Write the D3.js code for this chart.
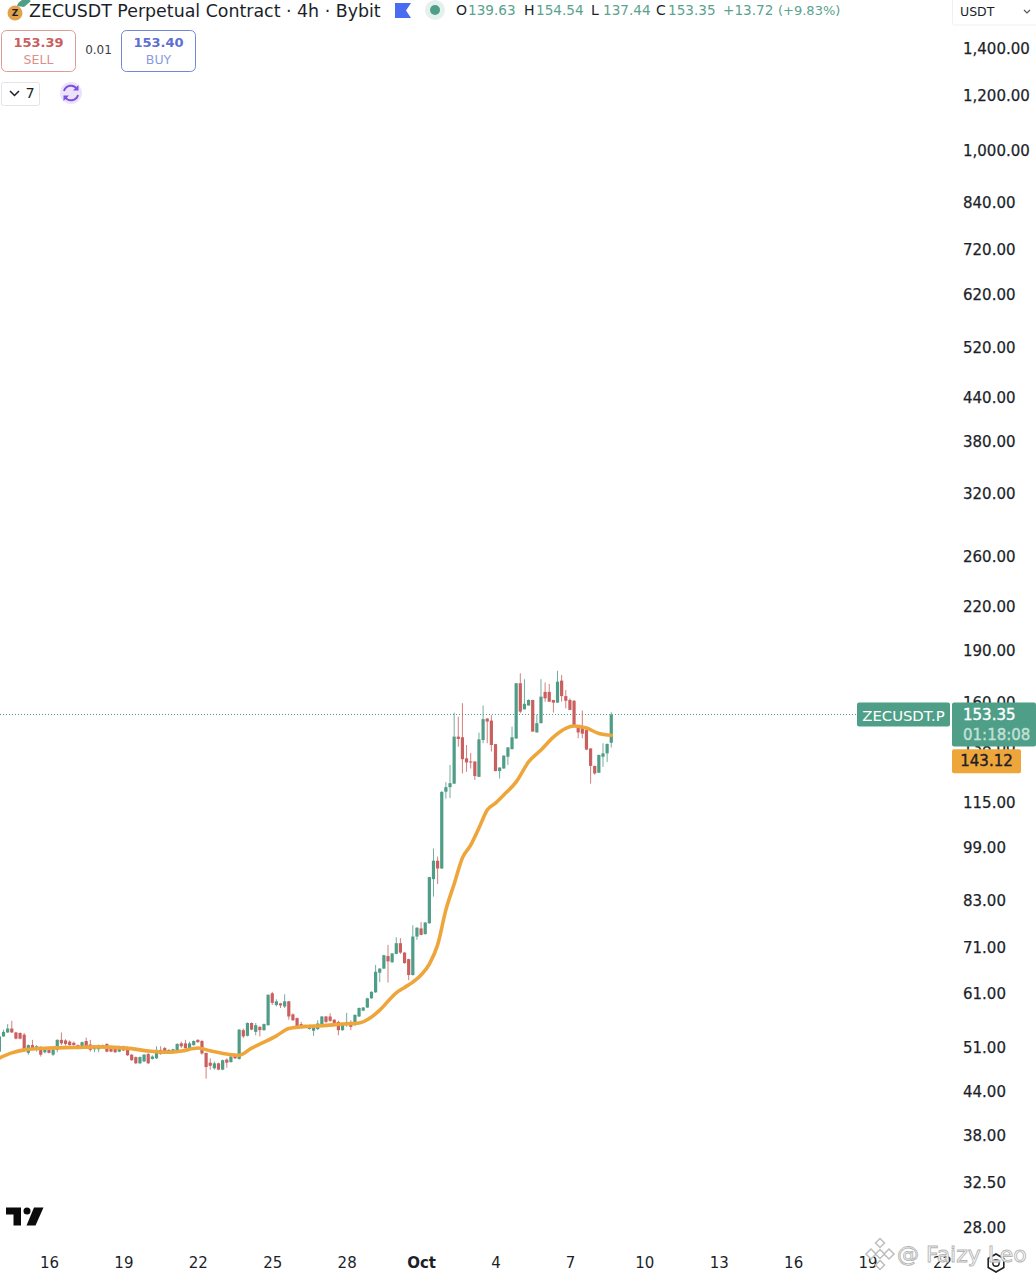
<!DOCTYPE html>
<html>
<head>
<meta charset="utf-8">
<title>ZECUSDT</title>
<script src="https://cdn.jsdelivr.net/npm/d3@7"></script>
<style>
  html, body { margin: 0; padding: 0; background: #fff; }
  svg { display: block; }
  text { font-family: "DejaVu Sans", sans-serif; }
</style>
</head>
<body>
<div id="chart"></div>
<script>
// 4h candles, first bar is Sep 14 00:00, one row = 10 bars
const opens = [
  50.1,52.7,53.4,54.1,53.4,53.3,53.0,49.9,51.2,50.4,
  50.9,50.0,50.4,49.6,50.4,52.1,52.0,51.8,51.6,51.2,
  50.6,51.9,51.3,50.5,50.5,50.9,51.4,51.0,50.8,50.1,
  51.0,50.5,49.6,49.2,48.2,48.5,49.7,48.9,49.0,50.4,
  50.7,50.0,50.0,50.3,51.5,51.5,50.7,51.2,52.1,51.9,
  49.9,48.3,47.4,48.2,47.2,48.8,48.4,49.4,48.9,53.8,
  52.8,55.1,53.5,54.4,53.8,54.7,60.8,58.5,58.8,58.2,
  59.2,56.7,56.0,54.9,54.3,54.0,53.7,54.0,54.9,56.3,
  56.3,55.7,55.3,53.8,54.7,55.3,54.7,56.3,57.4,58.0,
  59.8,61.0,65.1,66.0,68.8,67.4,69.3,71.8,69.6,68.1,
  64.6,73.4,75.4,74.0,76.7,88.8,94.4,92.0,118.7,120.5,
  121.9,142.5,142.2,132.6,131.2,131.2,124.7,140.9,151.3,150.3,
  139.0,127.1,128.2,133.3,136.7,141.6,170.1,156,158,160.9,
  144.5,149,165.3,165.3,160.9,159.5,171.6,163,160.9,160.5,
  147.7,147.3,145.7,137,129.3,126.4,133.3,134.8,139.63
];
const highs = [
  52.9,53.9,54.9,55.5,53.5,53.4,53.3,51.3,52.1,51.2,
  51.0,50.6,50.6,50.7,52.2,53.4,52.2,52.0,51.8,51.3,
  51.8,52.5,52.1,51.2,51.3,51.3,51.5,51.1,50.9,51.1,
  51.1,51.0,49.7,49.3,49.3,49.7,49.9,49.5,51.0,51.0,
  50.9,50.5,50.6,51.5,51.8,52.1,51.8,52.0,52.2,52.1,
  49.9,49.0,48.5,48.3,48.8,49.0,49.4,49.5,54.0,54.1,
  55.2,55.2,55.1,54.5,55.0,60.6,61.1,59.6,58.9,60.6,
  59.3,56.9,56.1,55.3,54.8,54.8,54.7,55.6,56.4,56.4,
  56.9,55.8,55.5,55.1,57.0,55.6,56.7,58.0,58.1,59.9,
  61.2,66.8,66.1,69.1,71.4,69.5,73.2,73.0,69.7,68.2,
  76.2,75.7,77.0,77.0,89.5,98.3,95.7,119,122.5,129.7,
  154.3,152.2,159.2,138.6,135.0,131.3,144.4,158.0,151.5,153,
  139.1,128.7,133.9,137.6,147.3,170.2,175.8,172.4,161.3,161,
  153.3,172.4,170.5,169.7,161,177.3,174.8,166.3,161.8,160.9,
  147.8,155.4,147.3,137.1,129.4,134.2,139.4,139.2,154.54
];
const lows = [
  50.0,52.6,53.3,53.3,52.2,52.2,50.1,49.6,50.4,50.1,
  49.3,49.8,49.8,49.4,50.0,51.2,51.1,51.1,51.1,50.5,
  50.5,50.7,50.1,50.0,50.0,50.7,50.0,50.0,49.9,50.0,
  50.2,49.4,48.6,48.1,48.1,48.4,48.1,48.8,48.9,49.6,
  49.7,49.9,49.9,50.2,50.7,50.4,50.6,51.1,51.6,49.6,
  45.8,47.2,47.2,47.1,47.1,47.5,48.3,48.9,48.8,52.4,
  52.7,53.8,52.9,52.7,53.7,54.6,58.5,58.2,57.9,57.9,
  55.7,55.5,54.3,54.3,54.2,53.9,52.8,53.8,54.8,55.1,
  55.3,55.0,52.9,53.7,54.4,53.8,54.6,56.2,57.3,57.9,
  59.7,60.9,63.1,65.9,63.0,67.3,69.2,69.3,67.1,63.5,
  64.5,72.6,73.7,73.9,76.6,83.8,87.4,91.9,116,116.2,
  121.8,137.8,126.1,126.8,128.2,123.4,124.6,139.4,139.4,135.6,
  127.0,124.0,128.1,129.7,136.6,141.5,154,155.9,157.9,144.8,
  144.4,148.9,160,159.9,154.3,159.4,160,156.5,155.6,147.3,
  141.7,141.7,136.2,121.9,125.6,126.3,128.9,131,137.44
];
const closes = [
  52.7,53.5,54.1,53.4,52.3,52.3,50.4,51.2,50.7,51.0,
  49.6,50.4,49.9,50.5,52.1,51.5,51.4,51.2,51.2,50.6,
  51.7,51.0,50.4,51.1,51.1,51.2,50.1,50.1,50.0,51.0,
  50.3,49.5,48.7,48.2,49.2,49.6,48.2,49.3,50.4,49.7,
  49.8,50.4,50.5,51.4,51.0,50.7,51.5,51.9,51.7,49.8,
  47.6,47.8,48.2,47.2,48.7,48.3,49.3,49.0,53.9,52.7,
  55.1,53.9,54.7,53.8,54.9,60.5,58.9,59.2,58.4,59.2,
  56.3,55.6,54.4,54.6,54.7,54.7,54.4,55.0,56.3,55.3,
  55.5,55.1,53.8,55.0,55.3,54.4,56.6,57.9,58.0,59.8,
  61.1,65.3,66.0,69.0,67.6,69.4,71.8,69.6,67.2,64.6,
  73.4,75.6,73.8,76.9,89.4,94.4,92.0,118.6,120.5,122.1,
  142.5,141.4,132.2,130.8,130.8,125.0,141.2,151.0,149.8,138.6,
  127.1,128.6,133.8,137.5,142.2,170.1,154.8,158.9,160.9,144.9,
  149,162.7,161.8,160,159.5,171,163,160.5,155.7,147.7,
  144.5,143.9,136.5,129.3,126.1,134.1,134.8,139.1,153.35
];

// orange moving average, read at these bars (counted from the first candle)
const maBars = [
  0,3,6,12,18,24,32,36,41,44,48,51,55,58,61,64,67,70,73,78,83,87,90,92,96,98,100,102,
  104,106,108,110,112,114,116,118,120,122,125,128,131,134,137,139,142,145,148
];
const maValues = [
  49.05,49.9,50.4,50.7,50.8,50.9,50.6,50.2,50.0,50.2,50.7,50.25,49.7,49.5,50.7,51.7,
  52.8,54.1,54.4,54.6,54.9,55.1,56.2,57.5,60.9,62.0,63.1,64.6,67.0,71.4,80.2,87.4,
  95.3,99.4,105.2,111.7,114.3,117.4,122.6,131.0,136.3,142.3,146.5,147.6,146.6,144.0,143.12
];

const priceTicks = [1400,1200,1000,840,720,620,520,440,380,320,260,220,190,160,138,115,99,83,71,61,51,44,38,32.5,28];
const dayTicks = ["2025-09-16","2025-09-19","2025-09-22","2025-09-25","2025-09-28","2025-10-01",
                  "2025-10-04","2025-10-07","2025-10-10","2025-10-13","2025-10-16","2025-10-19","2025-10-22"];
const dayLabels = ["16","19","22","25","28","Oct","4","7","10","13","16","19","22"];

const lastPrice = 153.35;
const maLast = 143.12;

const UP = "#4f9c87", DOWN = "#c9605f", MA = "#eea53a", TEAL = "#4f9f88", INK = "#1c1f2a";
const W = 1036, H = 1280;
const BAR_MS = 4 * 3600 * 1000;
const firstBar = Date.UTC(2025, 8, 14);

const svg = d3.select("#chart").append("svg").attr("width", W).attr("height", H);

const y = d3.scaleLog().domain([28, 1400]).range([1227, 48]);
const x = d3.scaleUtc()
  .domain([new Date("2025-09-16"), new Date("2025-10-22")])
  .range([49, 942]);
const barX = i => x(new Date(firstBar + i * BAR_MS));

function label(parent, px, py, str, opts = {}) {
  return parent.append("text")
    .attr("x", px).attr("y", py)
    .attr("dominant-baseline", "central")
    .attr("text-anchor", opts.anchor || "start")
    .attr("fill", opts.fill || INK)
    .attr("stroke", opts.heavy ? (opts.fill || INK) : null)
    .attr("stroke-width", opts.heavy ? 0.4 : null)
    .attr("font-size", opts.size || 14)
    .attr("font-weight", opts.weight || 400)
    .text(str);
}

drawPriceAxis();
drawTimeAxis();
drawLastPriceLine();
drawCandles();
drawMovingAverage();
drawPriceTags();
drawHeader();
drawLogo();
drawWatermark();

function drawPriceAxis() {
  const g = svg.append("g").attr("transform", "translate(963,1)")
    .call(d3.axisRight(y).tickValues(priceTicks).tickSize(0).tickPadding(0).tickFormat(d3.format(",.2f")));
  g.select(".domain").remove();
  g.selectAll("text")
    .attr("fill", INK).attr("stroke", INK).attr("stroke-width", 0.25).attr("font-size", 15)
    .attr("font-family", '"DejaVu Sans", sans-serif');
}

function drawTimeAxis() {
  const g = svg.append("g").attr("transform", "translate(0,1257)")
    .call(d3.axisBottom(x).tickValues(dayTicks.map(d => new Date(d)))
      .tickSize(0).tickPadding(0).tickFormat((d, i) => dayLabels[i]));
  g.select(".domain").remove();
  g.selectAll("text")
    .attr("fill", INK).attr("font-size", 15)
    .attr("font-family", '"DejaVu Sans", sans-serif')
    .attr("font-weight", (d, i) => dayLabels[i] === "Oct" ? 700 : 400);
}

function drawLastPriceLine() {
  svg.append("line")
    .attr("x1", 0).attr("x2", 857)
    .attr("y1", y(lastPrice)).attr("y2", y(lastPrice))
    .attr("stroke", TEAL).attr("stroke-width", 1)
    .attr("stroke-dasharray", "1,2");
}

function drawCandles() {
  const bars = closes.map((c, i) => ({ i, o: opens[i], h: highs[i], l: lows[i], c }));
  const g = svg.append("g");
  const color = d => d.c >= d.o ? UP : DOWN;

  g.selectAll(".wick").data(bars).join("line")
    .attr("class", "wick")
    .attr("x1", d => barX(d.i)).attr("x2", d => barX(d.i))
    .attr("y1", d => y(d.h)).attr("y2", d => y(d.l))
    .attr("stroke", color).attr("stroke-width", 1).attr("opacity", 0.8);

  g.selectAll(".body").data(bars).join("rect")
    .attr("class", "body")
    .attr("x", d => barX(d.i) - 1.6)
    .attr("width", 3.2)
    .attr("y", d => y(Math.max(d.o, d.c)))
    .attr("height", d => Math.max(1, Math.abs(y(d.o) - y(d.c))))
    .attr("fill", color);
}

function drawMovingAverage() {
  const line = d3.line()
    .x((d, k) => barX(maBars[k]))
    .y(d => y(d))
    .curve(d3.curveMonotoneX);
  svg.append("path").datum(maValues)
    .attr("d", line)
    .attr("fill", "none")
    .attr("stroke", MA).attr("stroke-width", 3.6)
    .attr("stroke-linejoin", "round").attr("stroke-linecap", "round");
}

function drawPriceTags() {
  const g = svg.append("g");
  const py = y(lastPrice);
  g.append("rect").attr("x", 857).attr("y", py - 12).attr("width", 93).attr("height", 24).attr("rx", 2).attr("fill", TEAL);
  label(g, 903.5, py + 0.5, "ZECUSDT.P", { anchor: "middle", fill: "#fff", size: 14.8 });
  g.append("rect").attr("x", 952).attr("y", py - 12).attr("width", 84).attr("height", 44).attr("rx", 2).attr("fill", TEAL);
  label(g, 963, py + 0.5, d3.format(".2f")(lastPrice), { fill: "#fff", size: 15, heavy: true });
  label(g, 963, py + 20.5, "01:18:08", { fill: "#c3e0d7", size: 15, heavy: true });
  g.append("rect").attr("x", 952).attr("y", y(maLast) + 14).attr("width", 69).attr("height", 24).attr("rx", 2).attr("fill", MA);
  label(g, 986.5, y(maLast) + 26, d3.format(".2f")(maLast), { anchor: "middle", size: 15, heavy: true });
}

function drawHeader() {
  const g = svg.append("g");

  // coin icon
  g.append("path").attr("d", "M17,6 A9,9 0 0 1 31,1 L24,7 Z").attr("fill", "#4f9f88");
  g.append("circle").attr("cx", 15).attr("cy", 13).attr("r", 7.5).attr("fill", "#e3a24a");
  label(g, 15, 13, "Z", { anchor: "middle", size: 9, weight: 700 });

  label(g, 29, 11, "ZECUSDT Perpetual Contract · 4h · Bybit", { size: 17.4 });

  // flag and status dot
  g.append("path").attr("d", "M395,3 H411 L406,10.5 L411,18 H395 Z").attr("fill", "#4a6cf0");
  g.append("circle").attr("cx", 435).attr("cy", 10).attr("r", 10).attr("fill", "#e4f1ed");
  g.append("circle").attr("cx", 435).attr("cy", 10).attr("r", 5).attr("fill", TEAL);

  // OHLC readout
  const ohlcKeys = [["O", 456], ["H", 524], ["L", 591], ["C", 656]];
  const ohlcVals = [["139.63", 468], ["154.54", 536], ["137.44", 603], ["153.35", 668], ["+13.72", 723], ["(+9.83%)", 778]];
  ohlcKeys.forEach(([t, px]) => label(g, px, 10, t, { size: 14 }));
  ohlcVals.forEach(([t, px]) => label(g, px, 10, t, { size: t.length > 6 ? 13 : 13.6, fill: "#5aa28e" }));

  // sell / buy buttons
  g.append("rect").attr("x", 1.5).attr("y", 30.5).attr("width", 74).attr("height", 41).attr("rx", 5)
    .attr("fill", "#fff").attr("stroke", "#dc9c98");
  label(g, 38.5, 42, "153.39", { anchor: "middle", fill: "#c9605f", size: 13, weight: 700 });
  label(g, 38.5, 59, "SELL", { anchor: "middle", fill: "#dd8f8a", size: 12.5 });
  label(g, 98.5, 50, "0.01", { anchor: "middle", fill: "#3a3d48", size: 12 });
  g.append("rect").attr("x", 121.5).attr("y", 30.5).attr("width", 74).attr("height", 41).attr("rx", 5)
    .attr("fill", "#fff").attr("stroke", "#7486d8");
  label(g, 158.5, 42, "153.40", { anchor: "middle", fill: "#5d70d2", size: 13, weight: 700 });
  label(g, 158.5, 59, "BUY", { anchor: "middle", fill: "#8a9ae0", size: 12.5 });

  // collapsed indicator list
  g.append("rect").attr("x", 1.5).attr("y", 82.5).attr("width", 38).attr("height", 23).attr("rx", 2)
    .attr("fill", "#fff").attr("stroke", "#e4e4e6");
  g.append("path").attr("d", "M10,91 L14.5,95.5 L19,91").attr("fill", "none").attr("stroke", INK).attr("stroke-width", 1.5);
  label(g, 30, 93, "7", { anchor: "middle", size: 14.5 });

  // sync icon
  g.append("circle").attr("cx", 71).attr("cy", 93).attr("r", 11).attr("fill", "#ece3fa");
  g.append("path").attr("d", "M64,91 A7.2,7.2 0 0 1 77,89 M78,95 A7.2,7.2 0 0 1 65,97")
    .attr("fill", "none").attr("stroke", "#7a4fe0").attr("stroke-width", 2);
  g.append("path").attr("d", "M78.5,85 V90.5 H73 Z M63.5,101 V95.5 H69 Z").attr("fill", "#7a4fe0");

  // currency selector
  g.append("rect").attr("x", 952.5).attr("y", -2).attr("width", 90).attr("height", 27).attr("rx", 2)
    .attr("fill", "#fff").attr("stroke", "#f0f0f2");
  label(g, 960, 11, "USDT", { size: 12.5 });
  g.append("path").attr("d", "M1024,10 L1027,13 L1030,10").attr("fill", "none").attr("stroke", "#555").attr("stroke-width", 1.2);
}

function drawLogo() {
  const g = svg.append("g").attr("transform", "translate(6,1207.5)").attr("fill", "#0b0b0b");
  g.append("path").attr("d", "M0,0 H15 V18 H7.5 V7 H0 Z");
  g.append("circle").attr("cx", 21).attr("cy", 3.5).attr("r", 3.5);
  g.append("path").attr("d", "M28,0 H37.5 L29.5,18 H20.5 Z");
}

function drawWatermark() {
  const g = svg.append("g");

  // gear button, partly under the watermark text
  const hex = d3.range(6).map(k => {
    const a = Math.PI / 3 * k + Math.PI / 6;
    return [996 + 9 * Math.cos(a), 1263 + 9 * Math.sin(a)];
  });
  g.append("path").attr("d", d3.line()(hex) + "Z").attr("fill", "#fff").attr("stroke", "#222").attr("stroke-width", 1.6);
  g.append("circle").attr("cx", 996).attr("cy", 1263).attr("r", 3.2).attr("fill", "none").attr("stroke", "#222").attr("stroke-width", 1.4);

  // diamond mark
  const dia = [[880, 1243, 4.5], [871, 1254, 5], [889, 1254, 5], [880, 1254, 4.5], [880, 1265, 4.5]];
  g.selectAll(".dia").data(dia).join("path")
    .attr("class", "dia")
    .attr("d", d => `M${d[0]},${d[1] - d[2]} L${d[0] + d[2]},${d[1]} L${d[0]},${d[1] + d[2]} L${d[0] - d[2]},${d[1]} Z`)
    .attr("fill", "#fff").attr("stroke", "#bdbdbd").attr("stroke-width", 1.5);

  label(g, 897, 1254, "@ Faizy Leo", { size: 22 })
    .attr("fill", "#fff").attr("stroke", "#b5b5b5").attr("stroke-width", 0.9);
}
</script>
</body>
</html>
